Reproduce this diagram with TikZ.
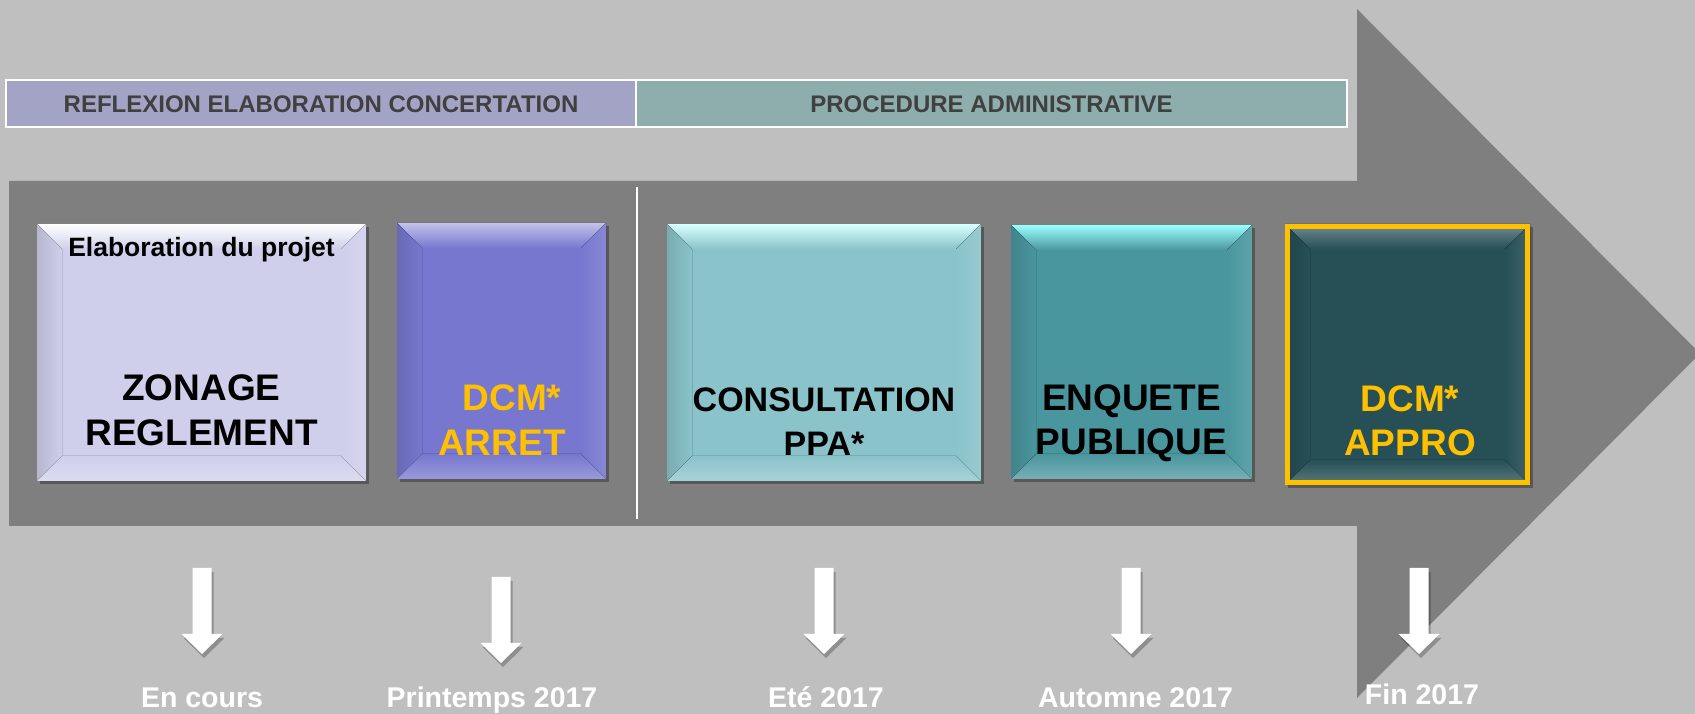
\documentclass[tikz,border=0pt]{standalone}
\usepackage{fontspec}
\setmainfont{Liberation Sans}
\usetikzlibrary{shadows}

\definecolor{backgray}{HTML}{BFBFBF}
\definecolor{arrowgray}{HTML}{7F7F7F}
\definecolor{phaseone}{HTML}{A3A3C6}
\definecolor{phasetwo}{HTML}{8EADAD}
\definecolor{phasetext}{HTML}{404040}
\definecolor{boxlavender}{HTML}{CFCFEC}
\definecolor{boxviolet}{HTML}{7777CF}
\definecolor{boxaqua}{HTML}{8AC3CA}
\definecolor{boxteal}{HTML}{4A969E}
\definecolor{boxdark}{HTML}{264F56}
\definecolor{gold}{HTML}{FFC000}

% bevelled face of a step box: #1 node name, #2 its colour, #3 highlight on top
\newcommand{\bevelbox}[3]{%
  \fill[top color=#3, bottom color=#2] (#1.north west) -- (#1.north east)
    -- ([shift={(-25,-25)}]#1.north east) -- ([shift={(25,-25)}]#1.north west) -- cycle;
  \fill[left color=#2!88!black, right color=#2] (#1.north west) -- ([shift={(25,-25)}]#1.north west)
    -- ([shift={(25,25)}]#1.south west) -- (#1.south west) -- cycle;
  \fill[right color=#2!88!white, left color=#2] (#1.north east) -- ([shift={(-25,-25)}]#1.north east)
    -- ([shift={(-25,25)}]#1.south east) -- (#1.south east) -- cycle;
  \fill[bottom color=#2!75!white, top color=#2] (#1.south west) -- ([shift={(25,25)}]#1.south west)
    -- ([shift={(-25,25)}]#1.south east) -- (#1.south east) -- cycle;
}

\begin{document}
\begin{tikzpicture}[x=1pt,y=1pt,
  phase/.style={draw=white, line width=2pt, minimum height=47, inner sep=0,
    font=\fontsize{24}{28}\selectfont\bfseries, text=phasetext},
  stepbox/.style={inner sep=0, outer sep=0,
    drop shadow={shadow xshift=3pt, shadow yshift=-3pt, opacity=0.3, fill=black}},
  bigtext/.style={font=\fontsize{37}{45}\selectfont\bfseries, anchor=base, inner sep=0},
  datetext/.style={font=\fontsize{28.5}{32}\selectfont\bfseries, text=white, anchor=base, inner sep=0},
  whitearrow/.style={fill=white,
    drop shadow={shadow xshift=2pt, shadow yshift=-4pt, opacity=0.25, fill=black}}]

\fill[backgray] (0,0) rectangle (1695,714);
\useasboundingbox (0,0) rectangle (1695,714);

% the big grey arrow
\fill[arrowgray] (9,533) -- (1357,533) -- (1357,705) -- (1700,360.5)
  -- (1357,16) -- (1357,188) -- (9,188) -- cycle;
\draw[white, line width=2pt] (637,527) -- (637,195);

% phases
\node[phase, fill=phaseone, minimum width=630] (reflexion) at (321,610) {REFLEXION ELABORATION CONCERTATION};
\node[phase, fill=phasetwo, minimum width=711] (procedure) at (991.5,610) {PROCEDURE ADMINISTRATIVE};

% steps
\node[stepbox, fill=boxlavender, minimum width=329, minimum height=257] (zonage) at (201.5,361.5) {};
\node[stepbox, fill=boxviolet, minimum width=209, minimum height=256] (arret) at (501.5,363) {};
\node[stepbox, fill=boxaqua, minimum width=314, minimum height=257] (consult) at (824,361.5) {};
\node[stepbox, fill=boxteal, minimum width=241, minimum height=254] (enquete) at (1131.5,362) {};
\node[stepbox, fill=boxdark, minimum width=245, minimum height=261] (appro) at (1407.5,359.5) {};
\bevelbox{zonage}{boxlavender}{white}
\bevelbox{arret}{boxviolet}{boxviolet!45!white}
\bevelbox{consult}{boxaqua}{cyan!15!white}
\bevelbox{enquete}{boxteal}{cyan!40!white}
\bevelbox{appro}{boxdark}{boxdark!65!white}
\draw[gold, line width=5pt] ([shift={(2.5,2.5)}]appro.south west) rectangle ([shift={(-2.5,-2.5)}]appro.north east);

\node[bigtext, font=\fontsize{26.5}{30}\selectfont\bfseries] (projet) at (201.5,457) {Elaboration du projet};
\node[bigtext] (zonage1) at (201.5,313) {ZONAGE};
\node[bigtext] (zonage2) at (201.5,268) {REGLEMENT};
\node[bigtext, text=gold] (arret1) at (512,303) {DCM*};
\node[bigtext, text=gold] (arret2) at (502,258) {ARRET};
\node[bigtext, font=\fontsize{34}{40}\selectfont\bfseries] (consult1) at (824,302) {CONSULTATION};
\node[bigtext, font=\fontsize{34}{40}\selectfont\bfseries] (consult2) at (824,258) {PPA*};
\node[bigtext] (enquete1) at (1131.5,303) {ENQUETE};
\node[bigtext] (enquete2) at (1131.5,259) {PUBLIQUE};
\node[bigtext, text=gold] (appro1) at (1410,302) {DCM*};
\node[bigtext, text=gold] (appro2) at (1410,258) {APPRO};

% dates
\foreach \x/\t in {202/146, 501/137, 824/146, 1131/146, 1419/146}
  \fill[whitearrow] (\x-9.5,\t) -- (\x+9.5,\t) -- (\x+9.5,\t-66) -- (\x+20.5,\t-66)
    -- (\x,\t-86) -- (\x-20.5,\t-66) -- (\x-9.5,\t-66) -- cycle;

\node[datetext] (encours) at (202,6) {En cours};
\node[datetext] (printemps) at (492,6) {Printemps 2017};
\node[datetext] (ete) at (826,6) {Eté 2017};
\node[datetext] (automne) at (1135.5,6) {Automne 2017};
\node[datetext] (fin) at (1422,9) {Fin 2017};
\end{tikzpicture}
\end{document}
